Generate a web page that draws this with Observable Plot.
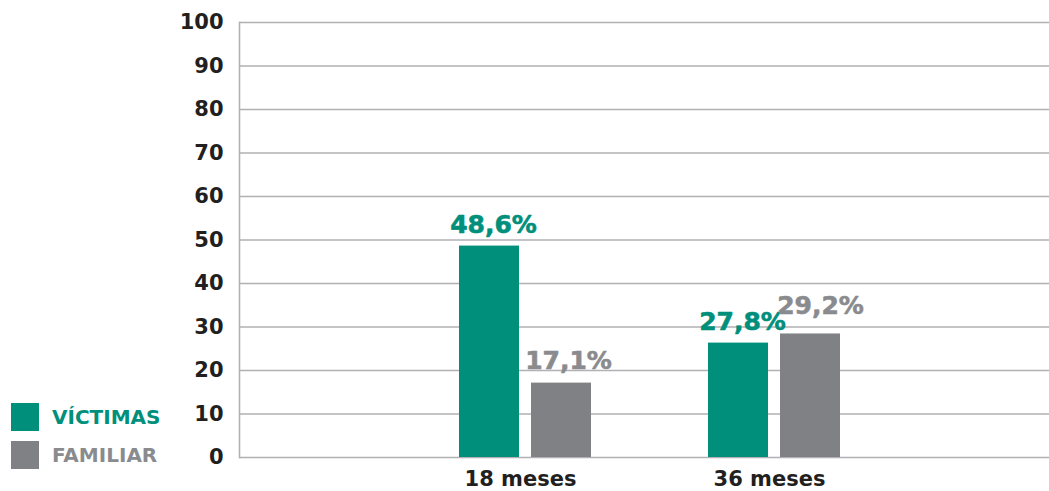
<!DOCTYPE html>
<html><head><meta charset="utf-8">
<script src="https://cdn.jsdelivr.net/npm/d3@7"></script>
<script src="https://cdn.jsdelivr.net/npm/@observablehq/plot@0.6"></script>
<style>
body{margin:0;background:#fff;}
#wrap{position:relative;width:1049px;height:491px;}
#legend{position:absolute;left:11px;top:403px;font-family:"DejaVu Sans";font-weight:bold;font-size:20px;}
.item{display:flex;align-items:center;height:28px;margin-bottom:10px;}
.sw{width:28px;height:28px;margin-right:13px;}
</style></head><body><div id="wrap"><div id="legend"></div></div>
<script>
const groups = ["18 meses", "36 meses"];
const series = ["VÍCTIMAS", "FAMILIAR"];
const victimas = [48.6, 26.3];
const familiar = [17.1, 28.4];
const victimasLabels = ["48,6%", "27,8%"];
const familiarLabels = ["17,1%", "29,2%"];
const yTicks = [0, 10, 20, 30, 40, 50, 60, 70, 80, 90, 100];
const colors = ["#008f7b", "#808185"];

const vRows = groups.map((g, i) => ({group: g, series: series[0], value: victimas[i], label: victimasLabels[i]}));
const fRows = groups.map((g, i) => ({group: g, series: series[1], value: familiar[i], label: familiarLabels[i]}));

const gridColor = "#b1b1b5";
const labelFont = {fontFamily: "DejaVu Sans", fontWeight: "bold", fontSize: 25, strokeWidth: 0.6};

const chart = Plot.plot({
  width: 1049,
  height: 491,
  marginLeft: 239,
  marginRight: 0,
  marginTop: 22,
  marginBottom: 34,
  style: {fontFamily: "DejaVu Sans", background: "white"},
  x: {domain: groups, paddingInner: 0.468, paddingOuter: 0.854, align: 0.513},
  y: {domain: [0, 100]},
  marks: [
    Plot.ruleY(yTicks, {stroke: gridColor, strokeWidth: 1.6}),
    Plot.frame({anchor: "left", stroke: gridColor, strokeWidth: 1.6}),
    Plot.barY(vRows, {x: "group", y: "value", fill: colors[0], insetRight: 72}),
    Plot.barY(fRows, {x: "group", y: "value", fill: colors[1], insetLeft: 72}),
    Plot.text(vRows, {x: "group", y: "value", text: "label", fill: colors[0], stroke: colors[0], lineAnchor: "bottom", dx: -32, dy: -13, ...labelFont}),
    Plot.text(fRows.slice(0, 1), {x: "group", y: "value", text: "label", fill: "#8a8b8e", stroke: "#8a8b8e", lineAnchor: "bottom", dx: 43, dy: -14, ...labelFont}),
    Plot.text(fRows.slice(1), {x: "group", y: "value", text: "label", fill: "#8a8b8e", stroke: "#8a8b8e", lineAnchor: "bottom", dx: 46, dy: -20, ...labelFont}),
    Plot.axisY({ticks: yTicks, tickSize: 0, tickPadding: 16, label: null, fontSize: 21, fontWeight: "bold", fill: "#231f20"}),
    Plot.axisX({tickSize: 0, tickPadding: 14, label: null, fontSize: 21, fontWeight: "bold", fill: "#231f20", dx: -5})
  ]
});
document.getElementById("wrap").prepend(chart);

const legend = document.getElementById("legend");
const legendText = ["#008f7b", "#8a8b8e"];
series.forEach((s, i) => {
  const item = document.createElement("div");
  item.className = "item";
  const sw = document.createElement("div");
  sw.className = "sw";
  sw.style.background = colors[i];
  const t = document.createElement("span");
  t.textContent = s;
  t.style.color = legendText[i];
  item.append(sw, t);
  legend.append(item);
});
</script>
</body></html>
